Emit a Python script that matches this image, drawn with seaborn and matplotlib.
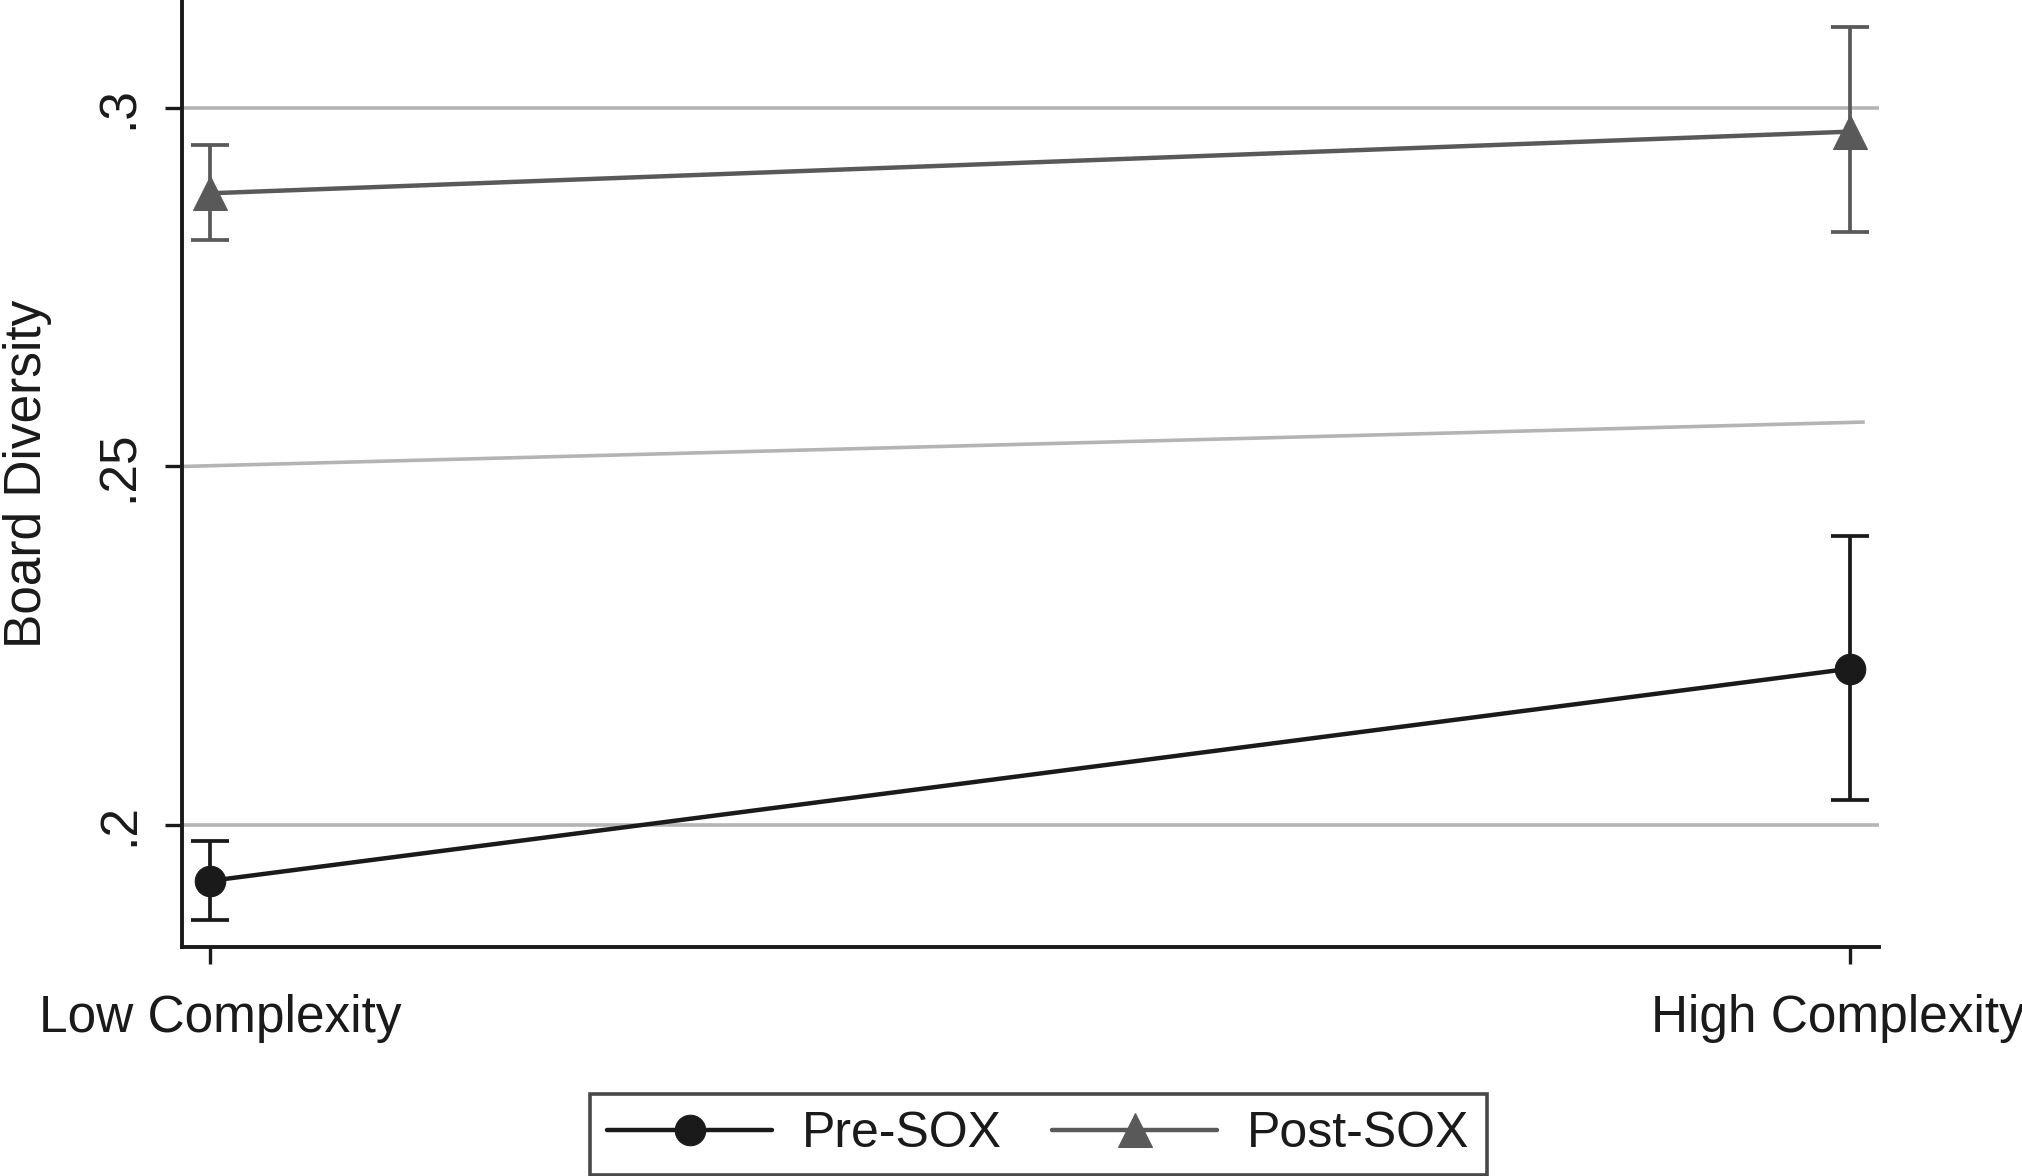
import numpy as np
import pandas as pd
import seaborn as sns
import matplotlib.pyplot as plt
from matplotlib.transforms import ScaledTranslation

# complexity groups on the x axis
groups = ["Low Complexity", "High Complexity"]
group_pos = [0, 1]

# predicted board diversity and CI bounds
pre_mean = [0.1922, 0.2218]
pre_low = [0.1868, 0.2035]
pre_high = [0.1978, 0.2403]

post_mean = [0.2881, 0.2967]
post_low = [0.2816, 0.2827]
post_high = [0.2948, 0.3113]

periods = ["Pre-SOX", "Post-SOX"]

# y axis ticks, gridlines and the slanted reference line of the original
ytick_vals = [0.2, 0.25, 0.3]
ytick_labels = [".2", ".25", ".3"]
grid_vals = [0.2, 0.3]
slant_x = [-0.017, 1.009]
slant_y = [0.25, 0.2562]

df = pd.DataFrame({
    "x": group_pos * 2,
    "y": pre_mean + post_mean,
    "lo": pre_low + post_low,
    "hi": pre_high + post_high,
    "period": [periods[0]] * 2 + [periods[1]] * 2,
})

sns.set_style("white")
plt.rcParams['font.family'] = ['Liberation Sans', 'DejaVu Sans']
plt.rcParams['text.color'] = '#1a1a1a'

ink = '#1a1a1a'
styles = {
    "Pre-SOX": dict(color=ink, marker='o', ms=22),
    "Post-SOX": dict(color='#595959', marker='^', ms=24),
}

fig, ax = plt.subplots(figsize=(20.22, 11.76), dpi=100)
fig.subplots_adjust(left=0.09, right=0.9293, bottom=0.1947, top=1.0)

# light gridlines
for g in grid_vals:
    ax.axhline(g, color='#b4b4b4', lw=2.6, zorder=1)
ax.plot(slant_x, slant_y, color='#b4b4b4', lw=2.6, zorder=1, solid_capstyle='butt')

for p in periods:
    sub = df[df["period"] == p]
    st = styles[p]
    sns.lineplot(data=sub, x="x", y="y", ax=ax, color=st["color"], marker=st["marker"],
                 markersize=st["ms"], markeredgecolor=st["color"], linewidth=3.2,
                 label=p, zorder=3)
    ax.errorbar(sub["x"], sub["y"], yerr=[sub["y"] - sub["lo"], sub["hi"] - sub["y"]],
                fmt='none', ecolor=st["color"], elinewidth=2.7, capsize=14, capthick=2.7, zorder=2)

ax.set_xlim(-0.017, 1.0177)
ax.set_ylim(0.18298, 0.31506)
ax.set_xticks(group_pos)
ax.set_xticklabels(groups)
ax.set_yticks(ytick_vals)
ax.set_yticklabels(ytick_labels, rotation=90, va='center')
ax.tick_params(axis='both', length=12.5, width=2.4, color=ink, labelsize=37, labelcolor=ink,
               bottom=True, left=True)
ax.tick_params(axis='x', pad=21)
ax.tick_params(axis='y', pad=15)
ax.set_xlabel("")
ax.set_ylabel("Board Diversity", fontsize=37, labelpad=31, color=ink)

# nudge the outer x labels inward like the original
shifts = [10, -12]
for lab, dx in zip(ax.get_xticklabels(), shifts):
    lab.set_transform(lab.get_transform() + ScaledTranslation(dx / 100, 0, fig.dpi_scale_trans))

sns.despine(ax=ax)
for s in ["left", "bottom"]:
    ax.spines[s].set_linewidth(2.8)
    ax.spines[s].set_color(ink)

handles, labels = ax.get_legend_handles_labels()
leg = ax.legend(handles, labels, loc='lower center', bbox_to_anchor=(0.5136, 0.001),
                bbox_transform=fig.transFigure, ncol=2, frameon=True, fancybox=False,
                edgecolor=ink, handlelength=3.3, handletextpad=0.6, columnspacing=1.0,
                fontsize=36, borderpad=0.35, borderaxespad=0)
leg.get_frame().set_linewidth(2.6)

fig.savefig("out.png", dpi=100)
